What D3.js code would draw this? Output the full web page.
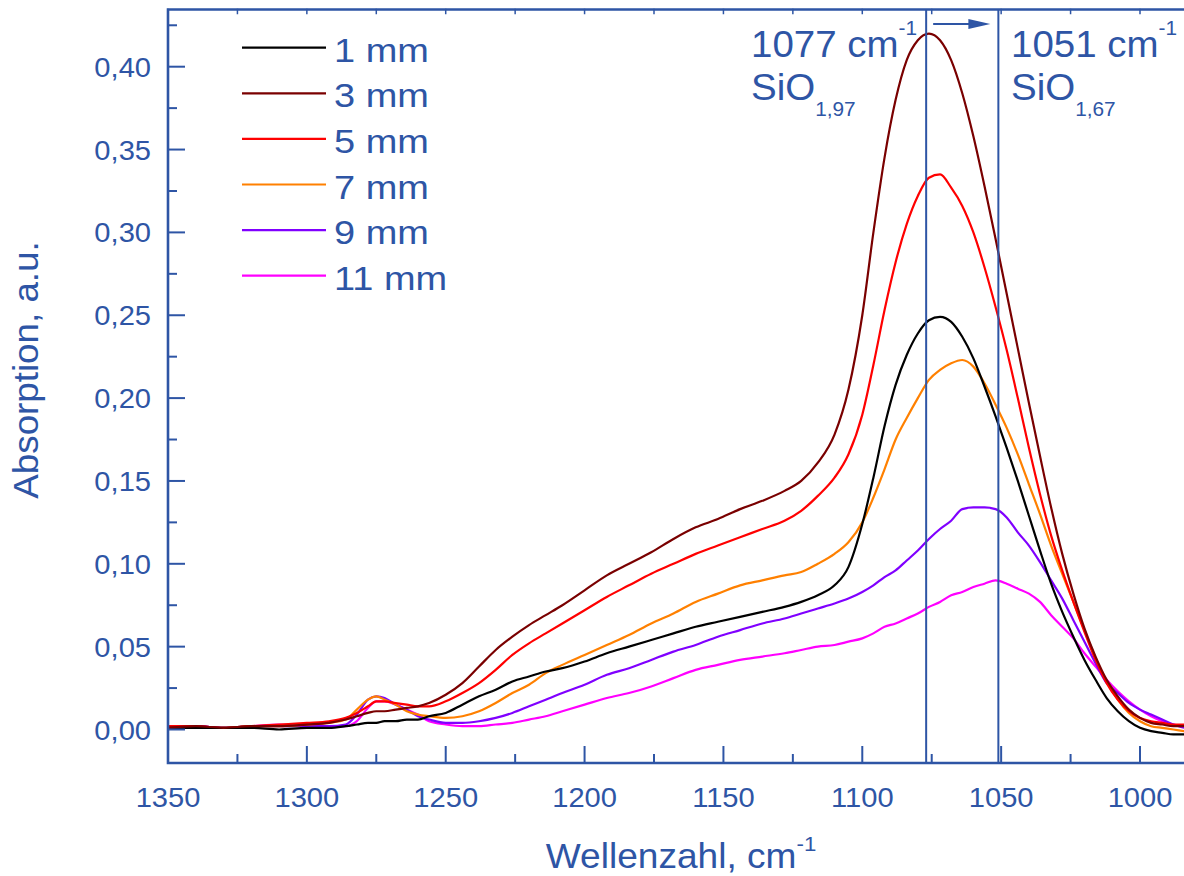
<!DOCTYPE html>
<html>
<head>
<meta charset="utf-8">
<script src="https://cdn.jsdelivr.net/npm/d3@7"></script>
<style>
    body { margin: 0; background: #ffffff; }
    svg text { font-family: "Liberation Sans", Arial, sans-serif; fill: #2e55a5; }
</style>
</head>
<body>
<div id="data-viz"></div>
<script>

// wavenumber grid, cm-1
const wavenumbers = [1350, 1340, 1330, 1320, 1310, 1300, 1292, 1286, 1282, 1278, 1275, 1272, 1268, 1264, 1260, 1256, 1250, 1244, 1238, 1232, 1226, 1220, 1214, 1208, 1200, 1192, 1184, 1176, 1168, 1160, 1152, 1144, 1136, 1128, 1122, 1116, 1110, 1105, 1100, 1096, 1092, 1088, 1084, 1080, 1076, 1072, 1068, 1064, 1060, 1056, 1052, 1048, 1044, 1040, 1036, 1032, 1028, 1024, 1020, 1016, 1012, 1008, 1004, 1000, 996, 992, 988, 984]

const abs1mm = [0.001, 0.001, 0.001, 0.001, 0.000, 0.001, 0.001, 0.002, 0.003, 0.004, 0.004, 0.005, 0.005, 0.006, 0.006, 0.008, 0.010, 0.015, 0.020, 0.024, 0.029, 0.032, 0.035, 0.037, 0.041, 0.046, 0.050, 0.054, 0.058, 0.062, 0.065, 0.068, 0.071, 0.074, 0.077, 0.081, 0.087, 0.098, 0.124, 0.152, 0.183, 0.208, 0.226, 0.239, 0.247, 0.249, 0.246, 0.237, 0.224, 0.207, 0.189, 0.170, 0.150, 0.129, 0.108, 0.088, 0.071, 0.056, 0.042, 0.030, 0.019, 0.011, 0.005, 0.001, -0.001, -0.002, -0.003, -0.003]

const abs3mm = [0.001, 0.002, 0.001, 0.002, 0.002, 0.003, 0.004, 0.006, 0.008, 0.010, 0.011, 0.011, 0.012, 0.013, 0.014, 0.016, 0.021, 0.028, 0.038, 0.048, 0.056, 0.063, 0.069, 0.075, 0.084, 0.093, 0.100, 0.107, 0.115, 0.122, 0.127, 0.133, 0.138, 0.144, 0.150, 0.161, 0.178, 0.205, 0.250, 0.300, 0.345, 0.380, 0.404, 0.416, 0.420, 0.416, 0.404, 0.384, 0.358, 0.328, 0.296, 0.263, 0.230, 0.197, 0.165, 0.134, 0.106, 0.082, 0.061, 0.044, 0.030, 0.020, 0.012, 0.007, 0.004, 0.003, 0.002, 0.002]

const abs5mm = [0.002, 0.002, 0.001, 0.002, 0.003, 0.004, 0.005, 0.007, 0.010, 0.014, 0.017, 0.017, 0.016, 0.015, 0.014, 0.014, 0.017, 0.022, 0.028, 0.036, 0.045, 0.052, 0.058, 0.064, 0.072, 0.080, 0.087, 0.094, 0.100, 0.106, 0.111, 0.116, 0.121, 0.126, 0.132, 0.141, 0.152, 0.166, 0.190, 0.220, 0.253, 0.282, 0.305, 0.322, 0.333, 0.335, 0.327, 0.316, 0.300, 0.279, 0.255, 0.229, 0.200, 0.170, 0.142, 0.117, 0.096, 0.077, 0.059, 0.042, 0.028, 0.018, 0.011, 0.007, 0.005, 0.004, 0.003, 0.003]

const abs7mm = [0.001, 0.001, 0.001, 0.002, 0.002, 0.003, 0.004, 0.006, 0.012, 0.018, 0.020, 0.018, 0.015, 0.011, 0.009, 0.008, 0.007, 0.008, 0.011, 0.016, 0.022, 0.027, 0.034, 0.039, 0.045, 0.051, 0.057, 0.064, 0.070, 0.077, 0.082, 0.087, 0.090, 0.093, 0.095, 0.100, 0.106, 0.113, 0.125, 0.140, 0.157, 0.175, 0.188, 0.200, 0.211, 0.217, 0.221, 0.223, 0.219, 0.209, 0.196, 0.182, 0.166, 0.148, 0.130, 0.111, 0.094, 0.077, 0.060, 0.043, 0.029, 0.018, 0.010, 0.005, 0.002, 0.001, 0.000, -0.001]

const abs9mm = [0.001, 0.002, 0.001, 0.002, 0.002, 0.002, 0.002, 0.003, 0.009, 0.018, 0.020, 0.019, 0.015, 0.012, 0.008, 0.006, 0.004, 0.004, 0.005, 0.007, 0.010, 0.014, 0.018, 0.022, 0.027, 0.033, 0.037, 0.042, 0.047, 0.051, 0.056, 0.060, 0.064, 0.067, 0.070, 0.073, 0.076, 0.079, 0.083, 0.087, 0.092, 0.096, 0.102, 0.108, 0.115, 0.121, 0.126, 0.133, 0.134, 0.134, 0.133, 0.128, 0.119, 0.111, 0.101, 0.090, 0.079, 0.066, 0.053, 0.040, 0.028, 0.022, 0.016, 0.012, 0.009, 0.006, 0.003, 0.001]

const abs11mm = [0.002, 0.002, 0.001, 0.002, 0.003, 0.002, 0.002, 0.002, 0.005, 0.013, 0.017, 0.017, 0.015, 0.012, 0.009, 0.005, 0.003, 0.002, 0.002, 0.003, 0.004, 0.006, 0.008, 0.011, 0.015, 0.019, 0.022, 0.026, 0.031, 0.036, 0.039, 0.042, 0.044, 0.046, 0.048, 0.050, 0.051, 0.053, 0.055, 0.058, 0.062, 0.064, 0.067, 0.070, 0.074, 0.077, 0.081, 0.083, 0.086, 0.088, 0.090, 0.088, 0.085, 0.082, 0.077, 0.069, 0.062, 0.055, 0.046, 0.038, 0.030, 0.023, 0.017, 0.012, 0.008, 0.005, 0.003, 0.002]

const seriesLabels = ["1 mm", "3 mm", "5 mm", "7 mm", "9 mm", "11 mm"]

const xTicks = [1350, 1300, 1250, 1200, 1150, 1100, 1050, 1000]

const yTicks = [0.00, 0.05, 0.10, 0.15, 0.20, 0.25, 0.30, 0.35, 0.40]

const peakMarks = [1077, 1051]

const peakWaves = ["1077 cm", "1051 cm"]

const peakPhases = ["1,97", "1,67"]

class SpectraChart {

    constructor() {

        var self = this

        this.width = 1184

        this.height = 876

        this.frame = { top: 9.5, bottom: 763, left: 168, right: 1184 }

        this.blue = "#2e55a5"

        this.colours = ["#000000", "#7a0000", "#ff0000", "#ff8000", "#8000ff", "#ff00ff"]

        this.series = [abs1mm, abs3mm, abs5mm, abs7mm, abs9mm, abs11mm]

        this.x = d3.scaleLinear().domain([1350, 1000]).range([168, 1140])

        this.y = d3.scaleLinear().domain([0, 0.40]).range([729.5, 66.7])

        this.svg = d3.select("#data-viz").append("svg")
                        .attr("width", self.width)
                        .attr("height", self.height)

        this.create()

    }

    label(parent, x, y, size, sx, anchor) {

        return parent.append("text")
            .attr("transform", `translate(${x},${y}) scale(${sx},1)`)
            .attr("font-size", size)
            .attr("text-anchor", anchor)

    }

    create() {

        this.drawLines()

        this.drawMarks()

        this.drawAxes()

        this.drawLegend()

        this.drawNotes()

    }

    drawLines() {

        var self = this

        var f = self.frame

        self.svg.append("clipPath").attr("id", "plot-clip")
            .append("rect")
            .attr("x", f.left)
            .attr("y", f.top)
            .attr("width", f.right - f.left)
            .attr("height", f.bottom - f.top)

        var line = d3.line()
            .x((d, i) => self.x(wavenumbers[i]))
            .y(d => self.y(d))
            .curve(d3.curveMonotoneX)

        var g = self.svg.append("g").attr("clip-path", "url(#plot-clip)")

        var order = [5, 4, 3, 2, 0, 1]

        order.forEach(function(k) {
            g.append("path")
                .attr("d", line(self.series[k]))
                .attr("fill", "none")
                .attr("stroke", self.colours[k])
                .attr("stroke-width", 2.2)
                .attr("stroke-linejoin", "round")
        })

    }

    drawMarks() {

        var self = this

        var f = self.frame

        peakMarks.forEach(function(d) {
            self.svg.append("line")
                .attr("x1", self.x(d)).attr("x2", self.x(d))
                .attr("y1", f.top).attr("y2", f.bottom)
                .attr("stroke", self.blue)
                .attr("stroke-width", 2)
        })

        // shift arrow between the two bands
        var x0 = self.x(peakMarks[0]) + 7
        var x1 = self.x(peakMarks[1]) - 8
        var ay = 24

        self.svg.append("line")
            .attr("x1", x0).attr("x2", x1 - 18)
            .attr("y1", ay).attr("y2", ay)
            .attr("stroke", self.blue)
            .attr("stroke-width", 2)

        self.svg.append("path")
            .attr("d", `M${x1},${ay} L${x1 - 22},${ay - 5} L${x1 - 22},${ay + 5} Z`)
            .attr("fill", self.blue)

    }

    drawAxes() {

        var self = this

        var f = self.frame

        var ax = self.svg.append("g")
            .attr("stroke", self.blue)
            .attr("stroke-linecap", "square")

        // frame
        ax.append("path")
            .attr("d", `M${f.right},${f.top} H${f.left} V${f.bottom} H${f.right}`)
            .attr("fill", "none")
            .attr("stroke-width", 2.6)

        var minorX = d3.range(1350, 975, -25)

        minorX.forEach(function(v) {
            var major = v % 50 === 0
            var px = self.x(v)
            if (px > f.right) return
            ax.append("line")
                .attr("x1", px).attr("x2", px)
                .attr("y1", f.bottom).attr("y2", f.bottom - (major ? 16 : 8))
                .attr("stroke-width", 2)
            ax.append("line")
                .attr("x1", px).attr("x2", px)
                .attr("y1", f.top).attr("y2", f.top + 4)
                .attr("stroke-width", 1.5)
        })

        var minorY = d3.range(0, 0.43, 0.025)

        minorY.forEach(function(v, i) {
            var major = i % 2 === 0
            var py = self.y(v)
            if (py < f.top) return
            ax.append("line")
                .attr("x1", f.left).attr("x2", f.left + (major ? 16 : 8))
                .attr("y1", py).attr("y2", py)
                .attr("stroke-width", 2)
        })

        var fmt = d3.format(".2f")

        xTicks.forEach(function(v) {
            self.label(self.svg, self.x(v), 807, 28, 1.04, "middle").text(v)
        })

        yTicks.forEach(function(v) {
            self.label(self.svg, 151, self.y(v) + 10, 28, 1.04, "end").text(fmt(v).replace(".", ","))
        })

        var xt = self.label(self.svg, 681, 868, 35, 1.06, "middle")
        xt.append("tspan").text("Wellenzahl, cm")
        xt.append("tspan").attr("font-size", 21).attr("dy", -17).text("-1")

        self.svg.append("text")
            .attr("transform", "translate(38,370) rotate(-90) scale(1.05,1)")
            .attr("font-size", 35)
            .attr("text-anchor", "middle")
            .text("Absorption, a.u.")

    }

    drawLegend() {

        var self = this

        seriesLabels.forEach(function(d, i) {
            var ly = 47.7 + i * 45.6
            self.svg.append("line")
                .attr("x1", 242).attr("x2", 326)
                .attr("y1", ly).attr("y2", ly)
                .attr("stroke", self.colours[i])
                .attr("stroke-width", 2.2)
            self.label(self.svg, 334, ly + 14, 33, 1.15, "start").text(d)
        })

    }

    drawNotes() {

        var self = this

        var left = [751, 1011]

        peakWaves.forEach(function(d, i) {
            var t = self.label(self.svg, left[i], 57, 37, 1.04, "start")
            t.append("tspan").text(d)
            t.append("tspan").attr("font-size", 20).attr("dy", -22).text("-1")
            var s = self.label(self.svg, left[i], 100, 37, 1.04, "start")
            s.append("tspan").text("SiO")
            s.append("tspan").attr("font-size", 20).attr("dy", 16).text(peakPhases[i])
        })

    }

}

new SpectraChart()

</script>
</body>
</html>
